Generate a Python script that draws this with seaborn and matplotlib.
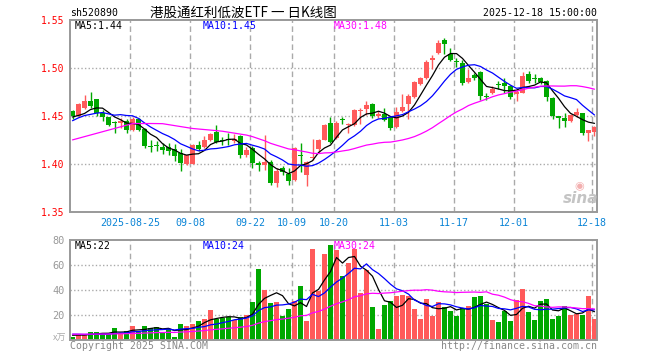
import numpy as np
import pandas as pd
import matplotlib
matplotlib.use("Agg")
import matplotlib.pyplot as plt
import seaborn as sns

# ---------------- data ----------------
opens = [1.455, 1.450, 1.458, 1.466, 1.468, 1.453, 1.449, 1.443, 1.4427, 1.445,
         1.435, 1.4467, 1.436, 1.4185, 1.419, 1.418, 1.4172, 1.4153, 1.4113, 1.400,
         1.400, 1.4198, 1.4176, 1.4252, 1.4338, 1.4245, 1.4252, 1.424, 1.4292, 1.4094,
         1.417, 1.4012, 1.399, 1.4017, 1.380, 1.396, 1.3897, 1.3833, 1.409, 1.3885,
         1.406, 1.4155, 1.425, 1.4427, 1.4275, 1.446, 1.441, 1.4406, 1.4552, 1.4575,
         1.4628, 1.450, 1.4522, 1.4486, 1.4389, 1.4556, 1.463, 1.4701, 1.4833, 1.4892,
         1.5088, 1.5153, 1.5295, 1.5146, 1.5068, 1.5052, 1.4858, 1.4927, 1.496, 1.4702,
         1.4736, 1.4825, 1.4847, 1.4813, 1.4734, 1.4743, 1.4938, 1.4894, 1.4892, 1.4865,
         1.4691, 1.4488, 1.4476, 1.4451, 1.451, 1.4528, 1.432, 1.4337]
closes = [1.450, 1.463, 1.466, 1.460, 1.453, 1.449, 1.441, 1.4425, 1.4451, 1.4356,
          1.447, 1.4356, 1.419, 1.418, 1.4185, 1.4148, 1.4137, 1.408, 1.4008, 1.409,
          1.4198, 1.4158, 1.4252, 1.4315, 1.4228, 1.4242, 1.4248, 1.426, 1.4094, 1.4146,
          1.4014, 1.399, 1.4024, 1.3797, 1.3932, 1.3915, 1.3826, 1.4167, 1.4082, 1.402,
          1.4076, 1.425, 1.4406, 1.4233, 1.443, 1.4456, 1.4418, 1.4563, 1.4557, 1.4615,
          1.4495, 1.452, 1.4463, 1.438, 1.4545, 1.4592, 1.471, 1.485, 1.4892, 1.5066,
          1.5092, 1.526, 1.5252, 1.5083, 1.5064, 1.484, 1.4892, 1.490, 1.471, 1.4698,
          1.4778, 1.4821, 1.4816, 1.4694, 1.4738, 1.4917, 1.4868, 1.489, 1.4858, 1.4694,
          1.450, 1.4484, 1.4451, 1.451, 1.4538, 1.4326, 1.4354, 1.4389]
highs = [1.456, 1.464, 1.4715, 1.475, 1.468, 1.456, 1.449, 1.4445, 1.448, 1.4465,
         1.449, 1.448, 1.437, 1.4245, 1.4235, 1.4218, 1.422, 1.421, 1.4156, 1.4097,
         1.421, 1.4243, 1.4295, 1.4328, 1.4408, 1.428, 1.432, 1.431, 1.430, 1.418,
         1.4187, 1.4031, 1.4302, 1.4042, 1.3955, 1.398, 1.3955, 1.4175, 1.4222, 1.403,
         1.4262, 1.4265, 1.4415, 1.4493, 1.445, 1.4493, 1.443, 1.457, 1.4583, 1.466,
         1.464, 1.4555, 1.458, 1.450, 1.459, 1.4725, 1.473, 1.4865, 1.4905, 1.508,
         1.5135, 1.529, 1.5315, 1.5205, 1.510, 1.508, 1.4986, 1.4952, 1.4968, 1.4743,
         1.4813, 1.4868, 1.4892, 1.4823, 1.4778, 1.4962, 1.4972, 1.4938, 1.4903, 1.4875,
         1.470, 1.450, 1.4528, 1.4521, 1.458, 1.4535, 1.4354, 1.440]
lows = [1.447, 1.449, 1.457, 1.458, 1.450, 1.445, 1.440, 1.432, 1.4375, 1.432,
        1.434, 1.434, 1.4165, 1.412, 1.4135, 1.410, 1.409, 1.403, 1.3932, 1.3993,
        1.3995, 1.4132, 1.4165, 1.4235, 1.4218, 1.4195, 1.4195, 1.4215, 1.4062, 1.407,
        1.396, 1.3931, 1.3938, 1.3785, 1.3757, 1.389, 1.3785, 1.3826, 1.392, 1.377,
        1.404, 1.4111, 1.4245, 1.4223, 1.4265, 1.442, 1.432, 1.4396, 1.4417, 1.451,
        1.448, 1.448, 1.445, 1.435, 1.438, 1.4545, 1.4465, 1.469, 1.4825, 1.4885,
        1.4986, 1.5146, 1.5146, 1.507, 1.501, 1.4825, 1.4845, 1.4875, 1.4667, 1.4667,
        1.4729, 1.4785, 1.4743, 1.4674, 1.4653, 1.4736, 1.484, 1.484, 1.4833, 1.466,
        1.4465, 1.437, 1.4389, 1.4441, 1.4493, 1.4302, 1.4243, 1.4292]
volumes = [2.4, 4.6, 4.6, 6.4, 6.4, 4.8, 4.8, 9.7, 5.9, 7.2,
           11.3, 6.4, 11.3, 9.9, 10.5, 6.4, 8.6, 2.4, 12.9, 11.3,
           12.9, 15.5, 16.9, 24.1, 16.6, 17.4, 18.2, 16.1, 18.2, 20.1,
           30.8, 57.1, 40.2, 30.0, 30.8, 19.3, 24.9, 31.4, 42.9, 15.5,
           73.2, 39.4, 69.2, 76.4, 71.8, 50.9, 61.7, 73.2, 37.5, 55.8,
           26.8, 8.6, 28.2, 31.6, 34.9, 35.7, 34.9, 24.9, 16.9, 33.0,
           19.6, 30.6, 26.8, 23.6, 19.6, 25.6, 27.4, 34.7, 35.2, 28.7,
           16.1, 14.7, 23.6, 15.5, 32.0, 41.0, 22.8, 16.1, 31.2, 33.0,
           16.9, 19.6, 27.4, 20.1, 20.9, 20.1, 35.2, 16.9]
# closes / volumes of the 29 sessions before the window (estimated from the MA lines)
pre_close = [1.412, 1.415, 1.409, 1.402, 1.398, 1.390, 1.3915, 1.3941, 1.3846, 1.396,
             1.4330, 1.4215, 1.4160, 1.4205, 1.4180, 1.4437, 1.438, 1.4308, 1.439, 1.4498,
             1.433, 1.442, 1.448, 1.440, 1.443, 1.4548, 1.456, 1.4394, 1.4446]
pre_volume = [5.2, 4.1, 3.8, 6.0, 4.5, 5.5, 3.9, 4.8, 4.2, 5.6,
              4.0, 4.6, 5.1, 3.7, 4.9, 4.4, 5.3, 4.0, 4.7, 5.0,
              4.8, 6.2, 5.9, 4.8, 5.5, 4.0, 4.4, 3.9, 4.3]

tick_index = [10, 20, 30, 37, 44, 54, 64, 74, 87]
tick_labels = ["2025-08-25", "09-08", "09-22", "10-09", "10-20", "11-03", "11-17", "12-01", "12-18"]
price_ticks = [1.35, 1.40, 1.45, 1.50, 1.55]
price_grid = [1.40, 1.45, 1.50]
vol_ticks = [20, 40, 60, 80]
vol_grid = [20, 40, 60]

ma_windows = [5, 10, 30]
ma_colors = ["black", "#0000ff", "#ff00ff"]

# ---------------- style ----------------
sns.set_style("white")
plt.rcParams["font.family"] = ["DejaVu Sans Mono", "Noto Sans CJK SC"]

RED = "#ff5a5a"
GREEN = "#00a800"
GRID = "#aaaaaa"
FRAME = "#999999"

W, H = 660, 360
fig = plt.figure(figsize=(6.6, 3.6), dpi=100)
fig.patch.set_facecolor("white")


def fx(px):
    return px / W


def fy(py):
    return 1 - py / H


L, R = 70, 597
ax_p = fig.add_axes([fx(L), fy(212), (R - L) / W, (212 - 20) / H])
ax_v = fig.add_axes([fx(L), fy(340), (R - L) / W, (340 - 240) / H])

n = len(closes)
idx = np.arange(n)
o = np.array(opens)
c = np.array(closes)
h = np.array(highs)
lo = np.array(lows)
v = np.array(volumes)
up = c >= o
cols = np.where(up, RED, GREEN)

full_c = pd.Series(pre_close + closes)
full_v = pd.Series(pre_volume + volumes)
ma_p = {w: full_c.rolling(w).mean().values[-n:] for w in ma_windows}
ma_v = {w: full_v.rolling(w).mean().values[-n:] for w in ma_windows}

xl = (L - 72.5) / 6.0
xr = (R - 72.5) / 6.0
bw = 5.0 / 6.0
grid_x = [t - 0.37 for t in tick_index]

for ax in (ax_p, ax_v):
    ax.set_xlim(xl, xr)
    for s in ax.spines.values():
        s.set_color(FRAME)
        s.set_linewidth(1.4)
    for gx in grid_x:
        ax.axvline(gx, color=GRID, lw=1.0, dashes=(4, 2.5), zorder=1)

ax_p.set_ylim(1.35, 1.55)
ax_v.set_ylim(0, 80)
for gy in price_grid:
    ax_p.axhline(gy, color=GRID, lw=1.0, dashes=(1, 1.6), zorder=1)
for gy in vol_grid:
    ax_v.axhline(gy, color=GRID, lw=1.0, dashes=(1, 1.6), zorder=1)

# candles
body_lo = np.minimum(o, c)
body_h = np.maximum(np.abs(c - o), 0.0011)
ax_p.vlines(idx, lo, h, colors=cols, lw=1.0, zorder=2)
ax_p.bar(idx, body_h, bottom=body_lo, width=bw, color=cols, linewidth=0, zorder=2.5,
         antialiased=False)

# volume bars
ax_v.bar(idx, v, width=bw, color=cols, linewidth=0, zorder=2, antialiased=False)

# moving averages
for w, col in zip(ma_windows, ma_colors):
    sns.lineplot(x=idx, y=ma_p[w], ax=ax_p, color=col, lw=0.9, zorder=3)
    sns.lineplot(x=idx, y=ma_v[w], ax=ax_v, color=col, lw=0.9, zorder=3)

# ticks
ax_p.set_yticks(price_ticks)
ax_p.set_yticklabels([f"{t:.2f}" for t in price_ticks])
ax_p.tick_params(axis="y", length=0, pad=4, labelcolor="red", labelsize=7)
ax_p.set_xticks(grid_x)
ax_p.set_xticklabels(tick_labels)
ax_p.tick_params(axis="x", length=0, pad=4.5, labelcolor="#0a84d6", labelsize=7.2)
ax_v.set_yticks(vol_ticks)
ax_v.set_yticklabels([str(t) for t in vol_ticks])
ax_v.tick_params(axis="y", length=0, pad=4, labelcolor="#999999", labelsize=7.4)
ax_v.set_xticks([])
for ax in (ax_p, ax_v):
    ax.set_xlabel("")
    ax.set_ylabel("")

# MA labels
ma_p_txt = [f"MA{w}:{ma_p[w][-1]:.2f}" for w in ma_windows]
ma_v_txt = [f"MA{w}:{int(ma_v[w][-1])}" for w in ma_windows]
lab_x = [75, 203, 334]
for t, col, x in zip(ma_p_txt, ma_colors, lab_x):
    fig.text(fx(x), fy(26), t, color=col, fontsize=7.1, ha="left", va="center")
for t, col, x in zip(ma_v_txt, ma_colors, lab_x):
    fig.text(fx(x), fy(246), t, color=col, fontsize=7.1, ha="left", va="center")

# header / footer texts
fig.text(fx(70), fy(12.5), "sh520890", color="black", fontsize=7.1, ha="left", va="center")
fig.text(fx(150), fy(12.5), "港股通红利低波ETF 一 日K线图", color="black", fontsize=9.7,
         ha="left", va="center", family=["Noto Sans CJK SC", "DejaVu Sans"])
fig.text(fx(597), fy(12.5), "2025-12-18 15:00:00", color="black", fontsize=7.1,
         ha="right", va="center")
fig.text(fx(70), fy(346), "Copyright 2025 SINA.COM", color="#888888", fontsize=7.1,
         ha="left", va="center")
fig.text(fx(597), fy(346), "http://finance.sina.com.cn", color="#888888", fontsize=7.1,
         ha="right", va="center")
fig.text(fx(66), fy(338), "x万", color="#aaaaaa", fontsize=6.5, ha="right", va="center",
         family=["Noto Sans CJK SC", "DejaVu Sans"])

# sina watermark
fig.text(fx(581), fy(198), "sina", color="#c4c4c4", fontsize=11, fontweight="bold",
         style="italic", ha="center", va="center", family=["DejaVu Sans"])
fig.text(fx(579), fy(186), "◉", color="#f3b0b0", fontsize=8, ha="center", va="center",
         family=["DejaVu Sans"])

fig.savefig("out.png", dpi=100, facecolor="white")
